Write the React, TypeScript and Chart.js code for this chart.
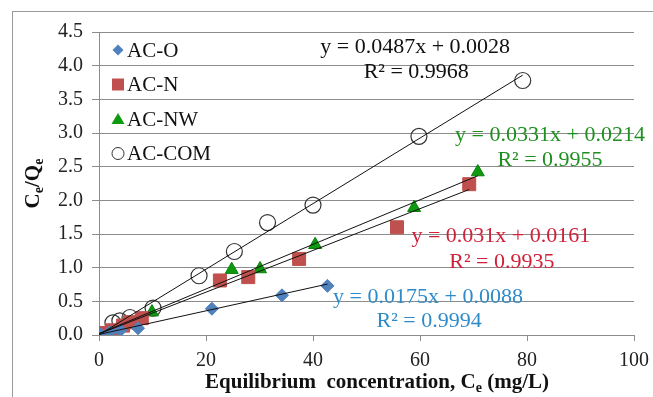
import { useEffect, useRef } from 'react';
import { Chart, registerables } from 'chart.js';

Chart.register(...registerables);

const FONT = "'Liberation Serif', 'Times New Roman', serif";

const seriesNames = ['AC-O', 'AC-N', 'AC-NW', 'AC-COM'];

const xO = [0.3, 2.0, 4.0, 7.3, 21.1, 34.2, 42.7];
const yO = [0.01, 0.04, 0.07, 0.1, 0.39, 0.59, 0.73];

const xN = [0, 2.5, 4.5, 5.8, 8.0, 22.6, 27.9, 37.4, 55.7, 69.2];
const yN = [0.03, 0.07, 0.14, 0.19, 0.25, 0.81, 0.86, 1.13, 1.6, 2.24];

const xNW = [0.3, 1.5, 3.3, 6.5, 9.9, 24.8, 30.1, 40.4, 58.9, 70.8];
const yNW = [0.0, 0.03, 0.08, 0.15, 0.34, 0.97, 0.98, 1.34, 1.89, 2.42];

const xCOM = [2.6, 3.9, 5.8, 10.1, 18.7, 25.3, 31.5, 40.0, 59.8, 79.2];
const yCOM = [0.18, 0.21, 0.26, 0.4, 0.88, 1.24, 1.67, 1.93, 2.95, 3.78];

const slopes = [0.0175, 0.031, 0.0331, 0.0487];
const intercepts = [0.0088, 0.0161, 0.0214, 0.0028];
const eqTexts = ['y = 0.0175x + 0.0088', 'y = 0.031x + 0.0161', 'y = 0.0331x + 0.0214', 'y = 0.0487x + 0.0028'];
const r2Texts = ['R² = 0.9994', 'R² = 0.9935', 'R² = 0.9955', 'R² = 0.9968'];

const xAll = [xO, xN, xNW, xCOM];
const yAll = [yO, yN, yNW, yCOM];

// styling
const fills = ['#4F81BD', '#C0504D', '#0E9A0E', 'rgba(0,0,0,0)'];
const borders = ['#4F81BD', '#C0504D', '#0B800B', '#333333'];
const shapes = ['rectRot', 'rect', 'triangle', 'circle'];
const radii = [6.5, 9.2, 7.5, 8];
const textColors = ['#2E8BC9', '#D0203A', '#1E8F1E', '#111111'];
// label anchor positions (data coordinates) for equation / R² text
const eqPos = [
  [61.5, 0.56, 61.7, 0.21],
  [75.1, 1.46, 75.3, 1.08],
  [84.3, 2.97, 84.3, 2.6],
  [59.1, 4.28, 59.3, 3.91],
];

const GRID = '#8c8c8c';

const framePlugin = {
  id: 'frame',
  beforeDraw(chart: any) {
    const ctx = chart.ctx;
    ctx.save();
    ctx.fillStyle = '#fff';
    ctx.fillRect(0, 0, chart.width, chart.height);
    ctx.strokeStyle = '#9a9a9a';
    ctx.lineWidth = 1;
    ctx.strokeRect(12.5, 11.5, chart.width + 20, chart.height + 20);
    ctx.restore();
  },
};

function drawMarker(ctx: CanvasRenderingContext2D, i: number, x: number, y: number) {
  ctx.save();
  ctx.fillStyle = fills[i];
  ctx.strokeStyle = borders[i];
  ctx.lineWidth = 1;
  ctx.beginPath();
  if (i === 0) {
    const r = 5.5;
    ctx.moveTo(x, y - r);
    ctx.lineTo(x + r, y);
    ctx.lineTo(x, y + r);
    ctx.lineTo(x - r, y);
    ctx.closePath();
    ctx.fill();
  } else if (i === 1) {
    ctx.rect(x - 6, y - 6, 12, 12);
    ctx.fill();
  } else if (i === 2) {
    ctx.moveTo(x, y - 6);
    ctx.lineTo(x + 6.5, y + 5);
    ctx.lineTo(x - 6.5, y + 5);
    ctx.closePath();
    ctx.fill();
  } else {
    ctx.arc(x, y, 6, 0, Math.PI * 2);
    ctx.stroke();
  }
  ctx.restore();
}

const legendPlugin = {
  id: 'customLegend',
  afterDraw(chart: any) {
    const ctx = chart.ctx;
    const { left, top } = chart.chartArea;
    ctx.save();
    ctx.font = `21px ${FONT}`;
    ctx.fillStyle = '#111';
    ctx.textBaseline = 'middle';
    ctx.textAlign = 'left';
    seriesNames.forEach((name, i) => {
      const y = top + 18 + i * 34.5;
      drawMarker(ctx, i, left + 19, y);
      ctx.fillText(name, left + 28, y + 1);
    });
    ctx.restore();
  },
};

function drawSubText(ctx: CanvasRenderingContext2D, parts: [string, boolean][], cx: number, cy: number, big: number, small: number) {
  let total = 0;
  const widths = parts.map(([t, sub]) => {
    ctx.font = `bold ${sub ? small : big}px ${FONT}`;
    const w = ctx.measureText(t).width;
    total += w;
    return w;
  });
  let x = cx - total / 2;
  parts.forEach(([t, sub], k) => {
    ctx.font = `bold ${sub ? small : big}px ${FONT}`;
    ctx.fillText(t, x, sub ? cy + 5 : cy);
    x += widths[k];
  });
}

const textPlugin = {
  id: 'texts',
  afterDatasetsDraw(chart: any) {
    const ctx = chart.ctx;
    const xs = chart.scales.x;
    const ys = chart.scales.y;
    ctx.save();
    ctx.font = `22px ${FONT}`;
    ctx.textAlign = 'center';
    ctx.textBaseline = 'middle';
    eqTexts.forEach((t, i) => {
      const p = eqPos[i];
      ctx.fillStyle = textColors[i];
      ctx.fillText(t, xs.getPixelForValue(p[0]), ys.getPixelForValue(p[1]));
      ctx.fillText(r2Texts[i], xs.getPixelForValue(p[2]), ys.getPixelForValue(p[3]));
    });
    // axis titles
    ctx.fillStyle = '#111';
    ctx.textAlign = 'left';
    ctx.textBaseline = 'middle';
    const { top, bottom } = chart.chartArea;
    drawSubText(
      ctx,
      [
        ['Equilibrium  concentration, C', false],
        ['e', true],
        [' (mg/L)', false],
      ],
      377,
      383,
      21,
      14
    );
    ctx.save();
    ctx.translate(36, (top + bottom) / 2);
    ctx.rotate(-Math.PI / 2);
    drawSubText(
      ctx,
      [
        ['C', false],
        ['e', true],
        ['/Q', false],
        ['e', true],
      ],
      0,
      -2,
      21,
      14
    );
    ctx.restore();
    ctx.restore();
  },
};

export default function App() {
  const ref = useRef<HTMLCanvasElement>(null);
  useEffect(() => {
    if (!ref.current) return;
    const pointSets = seriesNames.map((name, i) => ({
      type: 'scatter' as const,
      label: name,
      data: xAll[i].map((x, k) => ({ x, y: yAll[i][k] })),
      pointStyle: shapes[i],
      pointRadius: radii[i],
      pointHoverRadius: radii[i],
      backgroundColor: fills[i],
      borderColor: borders[i],
      pointBorderWidth: i === 3 ? 1.2 : 1,
      showLine: false,
      order: 2,
    }));
    const lineSets = seriesNames.map((name, i) => {
      const xmax = Math.max(...xAll[i]);
      return {
        type: 'line' as const,
        label: name + ' trend',
        data: [
          { x: 0, y: intercepts[i] },
          { x: xmax, y: slopes[i] * xmax + intercepts[i] },
        ],
        borderColor: '#111',
        borderWidth: 1,
        pointRadius: 0,
        fill: false,
        order: 1,
      };
    });
    const chart = new Chart(ref.current, {
      type: 'scatter',
      data: { datasets: [...lineSets, ...pointSets] as any },
      options: {
        animation: false,
        responsive: false,
        layout: { padding: { top: 32, right: 19, left: 0, bottom: 0 } },
        plugins: { legend: { display: false }, tooltip: { enabled: false } },
        scales: {
          x: {
            type: 'linear',
            min: 0,
            max: 100,
            ticks: { stepSize: 20, color: '#222', font: { family: FONT, size: 20 }, padding: 8, maxRotation: 0 },
            grid: { drawOnChartArea: false, drawTicks: true, tickLength: 6, color: GRID },
            border: { display: true, color: GRID },
            afterFit: (s: any) => {
              s.height = 62;
              s.paddingRight = 0;
              s.paddingLeft = 0;
            },
          },
          y: {
            type: 'linear',
            min: 0,
            max: 4.5,
            ticks: {
              stepSize: 0.5,
              color: '#222',
              font: { family: FONT, size: 20 },
              padding: 9,
              callback: (v: any) => Number(v).toFixed(1),
            },
            grid: { color: GRID, tickLength: 7 },
            border: { display: true, color: GRID },
            afterFit: (s: any) => {
              s.width = 99;
            },
          },
        },
      } as any,
      plugins: [framePlugin, textPlugin, legendPlugin],
    });
    return () => chart.destroy();
  }, []);
  return (
    <div style={{ position: 'absolute', left: 0, top: 0, width: 653, height: 397 }}>
      <canvas ref={ref} width={653} height={397} style={{ display: 'block' }} />
    </div>
  );
}
